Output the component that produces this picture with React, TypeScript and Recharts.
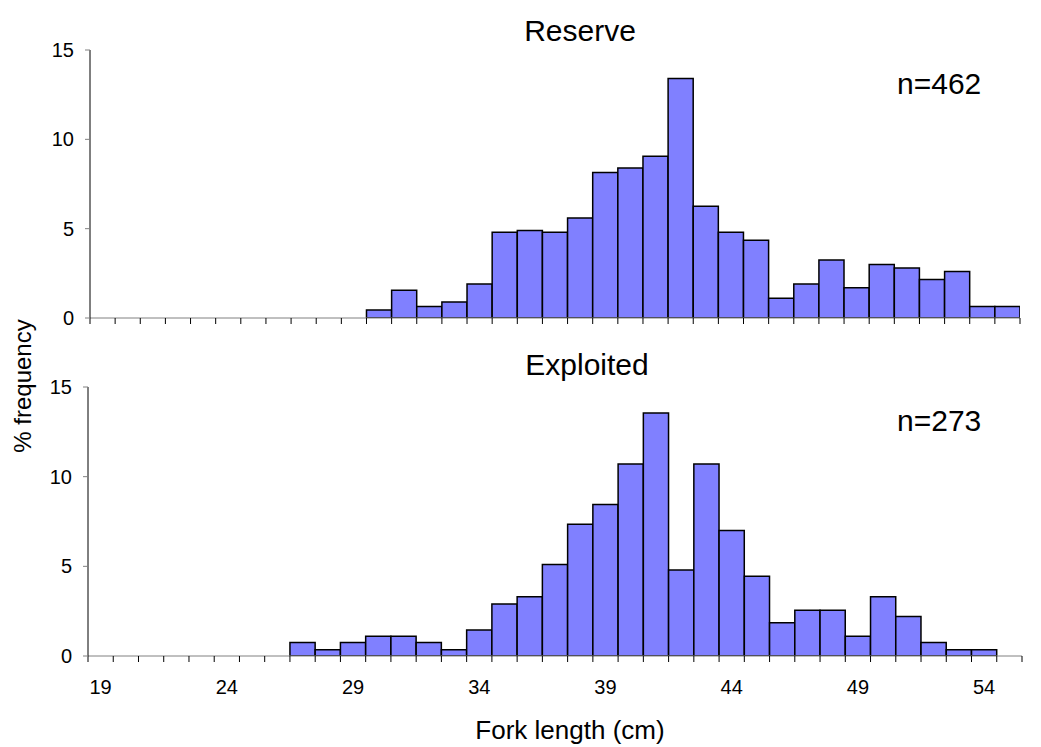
// Fork length histograms, Reserve vs Exploited

import { BarChart, Bar, XAxis, YAxis } from 'recharts';

// Lengths (cm) and % frequency per 1 cm class
const RESERVE_LENGTHS = [30, 31, 32, 33, 34, 35, 36, 37, 38, 39, 40, 41, 42, 43, 44, 45, 46, 47, 48, 49, 50, 51, 52, 53, 54, 55];
const RESERVE_PCT = [0.45, 1.55, 0.65, 0.9, 1.9, 4.8, 4.9, 4.8, 5.6, 8.15, 8.4, 9.05, 13.4, 6.25, 4.8, 4.35, 1.1, 1.9, 3.25, 1.7, 3.0, 2.8, 2.15, 2.6, 0.65, 0.65];

const EXPLOITED_LENGTHS = [27, 28, 29, 30, 31, 32, 33, 34, 35, 36, 37, 38, 39, 40, 41, 42, 43, 44, 45, 46, 47, 48, 49, 50, 51, 52, 53, 54];
const EXPLOITED_PCT = [0.75, 0.35, 0.75, 1.1, 1.1, 0.75, 0.35, 1.45, 2.9, 3.3, 5.1, 7.35, 8.45, 10.7, 13.55, 4.8, 10.7, 7.0, 4.45, 1.85, 2.55, 2.55, 1.1, 3.3, 2.2, 0.75, 0.35, 0.35];

const LABEL_TICKS = [19, 24, 29, 34, 39, 44, 49, 54];
const Y_TICKS = [0, 5, 10, 15];
const X_MIN = 19;
const X_MAX = 55;

const FONT = '"Liberation Sans", Arial, sans-serif';
const BAR_FILL = '#8080FF';
const W = 1041;

// tick marks sit on class boundaries
const EDGE_TICKS = Array.from({ length: X_MAX - X_MIN + 2 }, (_, i) => X_MIN - 0.5 + i);
const DOMAIN: [number, number] = [X_MIN - 0.5, X_MAX + 0.5];

// pas de texte sur l'axe des bornes, juste les traits
const NoLabel = () => <g />;

interface PanelProps {
  lengths: number[];
  values: number[];
  top: number;
  height: number;
  margin: { top: number; right: number; left: number; bottom: number };
  showLabels: boolean;
}

function Panel({ lengths, values, top, height, margin, showLabels }: PanelProps) {
  const data = lengths.map((len, i) => ({ len, pct: values[i] }));
  const plotW = W - margin.left - margin.right - 90;
  const barW = plotW / (X_MAX - X_MIN + 1) - 0.05;

  return (
    <div style={{ position: 'absolute', left: 0, top, width: W, height }}>
      <BarChart width={W} height={height} data={data} margin={margin} barCategoryGap={0} barGap={0}>
        <XAxis
          xAxisId="edges"
          type="number"
          dataKey="len"
          domain={DOMAIN}
          allowDataOverflow
          ticks={EDGE_TICKS}
          interval={0}
          tick={NoLabel}
          tickSize={6}
          height={1}
          stroke="#808080"
          tickLine={{ stroke: '#000' }}
        />
        {showLabels && (
          <XAxis
            xAxisId="labels"
            type="number"
            dataKey="len"
            domain={DOMAIN}
            allowDataOverflow
            ticks={LABEL_TICKS}
            interval={0}
            axisLine={false}
            tickLine={false}
            tickSize={0}
            tickMargin={23}
            height={1}
            tick={{ fontSize: 20, fill: '#000', fontFamily: FONT }}
          />
        )}
        <YAxis
          type="number"
          domain={[0, 15]}
          allowDataOverflow
          ticks={Y_TICKS}
          interval={0}
          width={90}
          tickSize={5}
          tickMargin={11}
          stroke="#000"
          tickLine={{ stroke: '#808080' }}
          tick={{ fontSize: 20, fill: '#000', fontFamily: FONT }}
        />
        <Bar
          xAxisId="edges"
          dataKey="pct"
          fill={BAR_FILL}
          stroke="#000"
          strokeWidth={1.5}
          barSize={barW}
          isAnimationActive={false}
        />
      </BarChart>
    </div>
  );
}

export default function App() {
  return (
    <div style={{ position: 'absolute', left: 0, top: 0, width: W, height: 747, background: '#fff' }}>
      <Panel
        lengths={RESERVE_LENGTHS}
        values={RESERVE_PCT}
        top={0}
        height={340}
        margin={{ top: 50, right: 21, left: 0, bottom: 21 }}
        showLabels={false}
      />
      <Panel
        lengths={EXPLOITED_LENGTHS}
        values={EXPLOITED_PCT}
        top={340}
        height={407}
        margin={{ top: 47, right: 19, left: -2, bottom: 89 }}
        showLabels={true}
      />

      {/* Titres, effectifs, axes */}
      <svg
        width={W}
        height={747}
        style={{ position: 'absolute', left: 0, top: 0, pointerEvents: 'none' }}
        fontFamily={FONT}
      >
        <text x={580} y={41} fontSize={30} textAnchor="middle">Reserve</text>
        <text x={897} y={94} fontSize={30}>n=462</text>
        <text x={587} y={375} fontSize={30} textAnchor="middle">Exploited</text>
        <text x={897} y={431} fontSize={30}>n=273</text>
        <text x={570} y={739} fontSize={26} textAnchor="middle">Fork length (cm)</text>
        <text x={31} y={386} fontSize={24} textAnchor="middle" transform="rotate(-90 31 386)">% frequency</text>
      </svg>
    </div>
  );
}
